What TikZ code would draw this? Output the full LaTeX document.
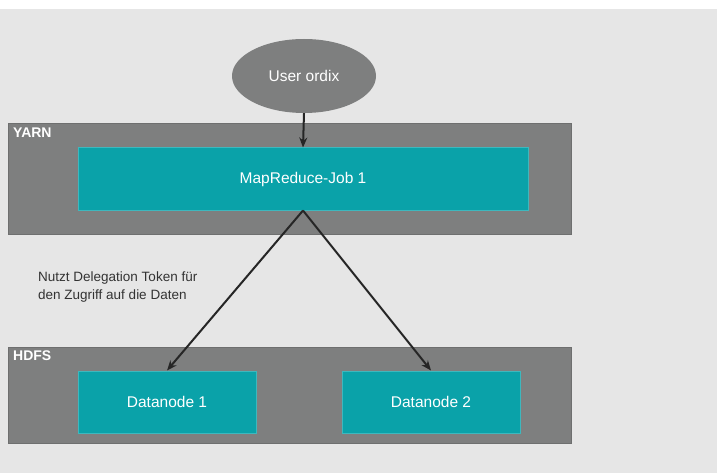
\documentclass[tikz,border=0pt]{standalone}
\usepackage{fontspec}
\setmainfont{Liberation Sans}
\usetikzlibrary{shapes.geometric,arrows.meta}
\definecolor{bg}{HTML}{E6E6E6}
\definecolor{band}{HTML}{7E7F7F}
\definecolor{bandedge}{HTML}{6E6F6F}
\definecolor{teal}{HTML}{0AA2A9}
\definecolor{tealedge}{HTML}{3DB8BE}
\definecolor{txt}{HTML}{333333}
\tikzset{
  layer/.style={fill=band, draw=bandedge, line width=1pt},
  layerlabel/.style={anchor=north west, text=white, font=\bfseries\fontsize{14}{16}\selectfont, inner sep=0pt},
  job/.style={fill=teal, draw=tealedge, line width=1pt, text=white, font=\fontsize{15.5}{18}\selectfont},
  user/.style={ellipse, fill=band, draw=none, text=white, font=\fontsize{15.5}{18}\selectfont},
  flow/.style={-{Stealth[length=10pt,width=8pt]}, line width=2pt, draw=black!85}
}
\begin{document}
\begin{tikzpicture}[x=1pt,y=-1pt]
  % canvas
  \useasboundingbox (0,0) rectangle (717,473);
  \fill[white] (0,0) rectangle (717,9);
  \fill[bg] (0,9) rectangle (717,473);

  % layers
  \draw[layer] (8,124) rectangle (571,234);
  \node[layerlabel] (yarn) at (13,128) {YARN};
  \draw[layer] (8,347) rectangle (571,443);
  \node[layerlabel] (hdfs) at (13,351) {HDFS};

  % nodes
  \node[user, minimum width=144pt, minimum height=74pt] (user) at (304,76) {User ordix};
  \node[job, minimum width=450pt, minimum height=62pt] (mr) at (303,179) {MapReduce-Job 1};
  \node[job, minimum width=178pt, minimum height=62pt] (dn1) at (167,402) {Datanode 1};
  \node[job, minimum width=178pt, minimum height=62pt] (dn2) at (431,402) {Datanode 2};

  % connectors
  \draw[flow] (user.south) -- (mr.north);
  \draw[flow] (mr.south) -- (dn1.north);
  \draw[flow] (mr.south) -- (dn2.north);

  % annotation
  \node[anchor=north west, align=left, text=txt, font=\fontsize{13.5}{18}\selectfont, inner sep=0pt] (note) at (38,272)
    {Nutzt Delegation Token für\\den Zugriff auf die Daten};
\end{tikzpicture}
\end{document}
